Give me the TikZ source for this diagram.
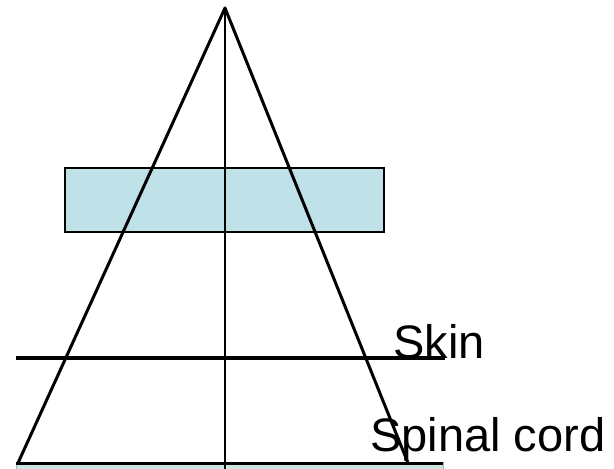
\documentclass[tikz,border=0pt]{standalone}
\usepackage{fontspec}
\setmainfont{Liberation Sans}
\definecolor{boxfill}{RGB}{190,226,232}
\definecolor{cordfill}{RGB}{205,230,225}
\tikzset{
  ray/.style={line width=3pt, line cap=round},
  lbl/.style={font=\fontsize{47}{47}\selectfont, inner sep=0pt, anchor=base west},
}
\begin{document}
\begin{tikzpicture}[x=1pt,y=-1pt]
\useasboundingbox (0,0) rectangle (614,469);
\coordinate (apex) at (225,8);
\coordinate (bl) at (18,463);
\coordinate (br) at (408,463);
\coordinate (vb) at (225,469);
% bottom cord strip
\draw[fill=cordfill, draw=gray!60, line width=0.8pt] (16,462) rectangle (443,476);
\coordinate (cl) at (16,463.5);
\coordinate (cr) at (443,463.5);
\draw[line width=3.4pt] (cl) -- (cr);
% filter box
\node[draw=black, line width=2.6pt, fill=boxfill, minimum width=319pt, minimum height=64pt, inner sep=0pt] (box) at (224.5,200) {};
% rays
\draw[ray] (apex) -- (bl);
\draw[ray] (apex) -- (br);
\draw[line width=2.6pt] (apex) -- (vb);
% skin line
\coordinate (sl) at (16,358);
\coordinate (sr) at (445,358);
\draw[line width=3.4pt] (sl) -- (sr);
\node[lbl] (skin) at (393,358) {Skin};
\node[lbl] (cord) at (370,451) {Spinal cord};
\end{tikzpicture}
\end{document}
